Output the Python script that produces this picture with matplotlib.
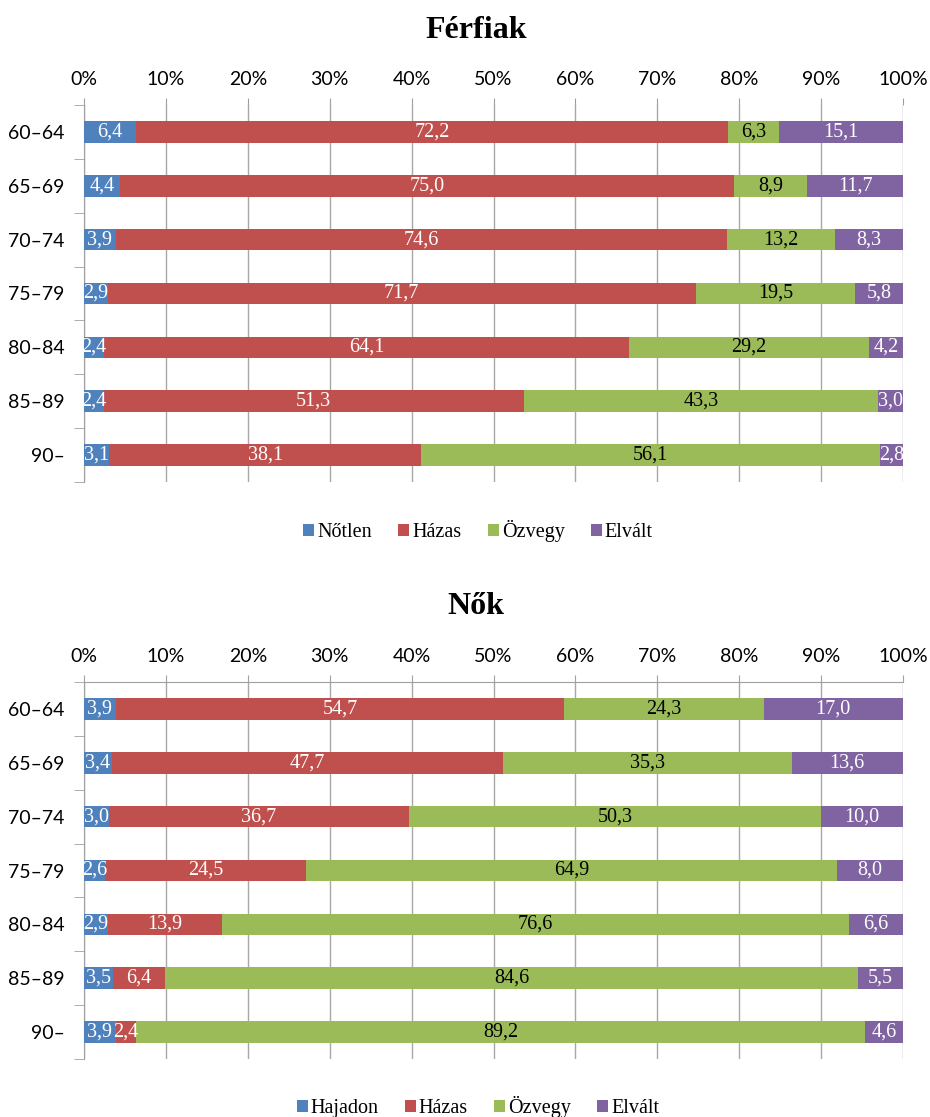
import matplotlib
matplotlib.use("Agg")
import matplotlib.pyplot as plt
import numpy as np

SERIF = ['Liberation Serif', 'DejaVu Serif']
SANS = ['Lato', 'DejaVu Sans']
plt.rcParams['font.family'] = SERIF

age_groups = ["60–64", "65–69", "70–74", "75–79", "80–84", "85–89", "90–"]

# Men, percent
men_single = [6.4, 4.4, 3.9, 2.9, 2.4, 2.4, 3.1]
men_married = [72.2, 75.0, 74.6, 71.7, 64.1, 51.3, 38.1]
men_widowed = [6.3, 8.9, 13.2, 19.5, 29.2, 43.3, 56.1]
men_divorced = [15.1, 11.7, 8.3, 5.8, 4.2, 3.0, 2.8]

# Women, percent
women_single = [3.9, 3.4, 3.0, 2.6, 2.9, 3.5, 3.9]
women_married = [54.7, 47.7, 36.7, 24.5, 13.9, 6.4, 2.4]
women_widowed = [24.3, 35.3, 50.3, 64.9, 76.6, 84.6, 89.2]
women_divorced = [17.0, 13.6, 10.0, 8.0, 6.6, 5.5, 4.6]

men_labels = ["Nőtlen", "Házas", "Özvegy", "Elvált"]
women_labels = ["Hajadon", "Házas", "Özvegy", "Elvált"]

colors = ["#4F81BD", "#C0504D", "#9BBB59", "#8064A2"]
text_colors = ["white", "white", "black", "white"]
xticks = list(range(0, 101, 10))

W, H = 930, 1117
fig = plt.figure(figsize=(W / 100, H / 100), dpi=100)


def fmt(v):
    return f"{v:.1f}".replace(".", ",")


def draw(top_px, bottom_px, title, title_y, legend_y, series, labels, top_line):
    ax = fig.add_axes([84 / W, 1 - bottom_px / H, (903 - 84) / W, (bottom_px - top_px) / H])
    y = np.arange(len(age_groups))
    totals = np.sum(series, axis=0)
    left = np.zeros(len(age_groups))
    handles = []
    for vals, col, tcol, lab in zip(series, colors, text_colors, labels):
        vals = np.array(vals, dtype=float)
        pct = vals / totals * 100
        bars = ax.barh(y, pct, left=left, height=0.4, color=col, label=lab, zorder=3)
        handles.append(bars)
        for yi, (l, p, v) in enumerate(zip(left, pct, vals)):
            ax.text(l + p / 2, yi, fmt(v), ha="center", va="center",
                    color=tcol, fontsize=14.5, zorder=4)
        left += pct
    ax.set_xlim(0, 100)
    ax.set_ylim(len(age_groups) - 0.5, -0.5)
    ax.set_xticks(xticks)
    ax.set_xticklabels([f"{t}%" for t in xticks], fontsize=14, family=SANS)
    ax.xaxis.tick_top()
    ax.tick_params(axis="x", direction="out", length=5, color="#a0a0a0", pad=7)
    ax.set_yticks(y)
    ax.set_yticklabels(age_groups, fontsize=14, family=SANS)
    ax.set_yticks(np.arange(-0.5, len(age_groups)), minor=True)
    ax.tick_params(axis="y", which="major", length=0, pad=14)
    ax.tick_params(axis="y", which="minor", direction="out", length=7, color="#a0a0a0")
    ax.grid(axis="x", color="#a8a8a8", linewidth=1, zorder=0)
    for s in ["right", "bottom"]:
        ax.spines[s].set_visible(False)
    ax.spines["top"].set_visible(top_line)
    ax.spines["top"].set_color("#a0a0a0")
    ax.spines["left"].set_color("#a0a0a0")
    fig.text(476 / W, 1 - title_y / H, title, ha="center", va="center",
             fontsize=23, fontweight="bold")
    fig.legend(handles=handles, labels=labels, loc="center",
               bbox_to_anchor=(478 / W, 1 - legend_y / H), ncol=4, frameon=False,
               fontsize=14.5, handlelength=0.55, handleheight=0.55, handletextpad=0.15,
               columnspacing=1.3)
    return ax


draw(105, 482, "Férfiak", 31, 531,
     [men_single, men_married, men_widowed, men_divorced], men_labels, False)
draw(682, 1059, "Nők", 606, 1107,
     [women_single, women_married, women_widowed, women_divorced], women_labels, True)

fig.savefig("out.png", dpi=100)
